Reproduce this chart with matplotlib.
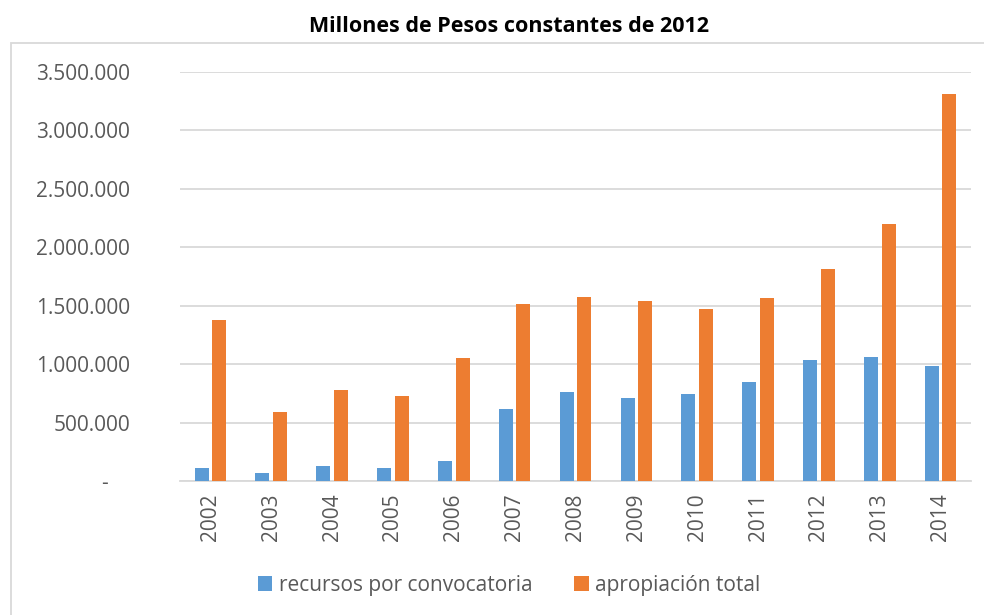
import numpy as np
import matplotlib
matplotlib.use("Agg")
import matplotlib.pyplot as plt
from matplotlib.patches import Rectangle
from matplotlib.ticker import FuncFormatter

plt.rcParams['font.family'] = ['Open Sans', 'DejaVu Sans']

years = ['2002', '2003', '2004', '2005', '2006', '2007', '2008',
         '2009', '2010', '2011', '2012', '2013', '2014']
recursos = [108000, 66000, 128000, 108000, 171000, 616000, 764000,
            710000, 744000, 850000, 1033000, 1058000, 984000]
apropiacion = [1378000, 593000, 776000, 730000, 1050000, 1515000, 1577000,
               1540000, 1469000, 1566000, 1811000, 2197000, 3311000]

blue = '#5B9BD5'
orange = '#ED7D31'
grid = '#D9D9D9'
txt = '#595959'

fig = plt.figure(figsize=(9.84, 6.15), dpi=100)
ax = fig.add_axes([180/984, 1 - 481/615, 791/984, 409/615])

x = np.arange(len(years))
w = 0.23
ax.bar(x - 0.145, recursos, w, color=blue, label='recursos por convocatoria', zorder=3)
ax.bar(x + 0.145, apropiacion, w, color=orange, label='apropiación total', zorder=3)

ax.set_xlim(-0.5, len(years) - 0.5)
ax.set_ylim(0, 3500000)
ax.set_yticks(np.arange(0, 3500001, 500000))

def miles(v, pos):
    if v == 0:
        return '-    '
    return f'{v:,.0f}'.replace(',', '.')

ax.yaxis.set_major_formatter(FuncFormatter(miles))
ax.set_xticks(x)
ax.set_xticklabels(years, rotation=90)
ax.grid(axis='y', color=grid, linewidth=1.3, zorder=0)
for s in ['top', 'left', 'right']:
    ax.spines[s].set_visible(False)
ax.spines['bottom'].set_color(grid)
ax.spines['bottom'].set_linewidth(1.3)
ax.tick_params(axis='y', length=0, pad=36, labelsize=15, labelcolor=txt)
ax.tick_params(axis='x', length=0, pad=9, labelsize=15, labelcolor=txt)

# outer frame of the chart area
fig.patches.append(Rectangle((11/984, -0.05), 1.0, 1 - 43/615 + 0.05,
                             transform=fig.transFigure, fill=False,
                             edgecolor=grid, linewidth=1.3))

fig.text(509/984, 1 - 27/615, 'Millones de Pesos constantes de 2012',
         ha='center', va='center', fontsize=15.5, fontweight='bold', color='black')

fig.legend(loc='center', bbox_to_anchor=(509/984, 1 - 585/615), ncol=2,
           frameon=False, fontsize=15, labelcolor=txt, handlelength=0.7,
           handleheight=0.7, handletextpad=0.3, columnspacing=2.0)

fig.savefig('out.png', dpi=100)
